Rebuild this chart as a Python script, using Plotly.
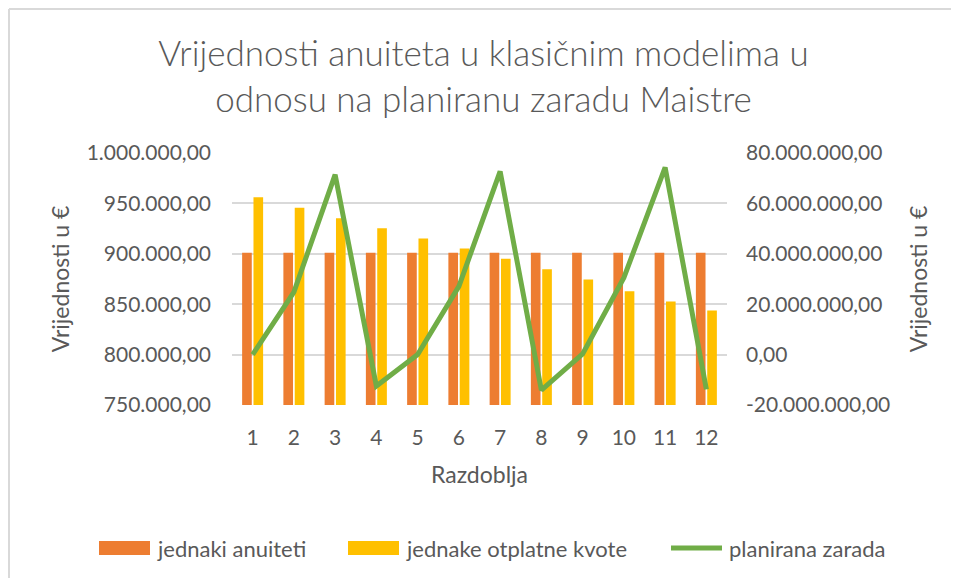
import plotly.graph_objects as go

# Razdoblja i vrijednosti (očitano s grafa)
razdoblja = [1, 2, 3, 4, 5, 6, 7, 8, 9, 10, 11, 12]
jednaki_anuiteti = [901000] * 12
jednake_otplatne_kvote = [956000, 945800, 935200, 925300, 915100, 905200,
                          895000, 884700, 874500, 862900, 852700, 843800]
planirana_zarada = [0, 24800000, 71400000, -12500000, 0, 27100000,
                    72700000, -14100000, 300000, 30500000, 74300000, -13800000]

# oznake osi
lijeve_vrijednosti = [750000, 800000, 850000, 900000, 950000, 1000000]
lijeve_oznake = ["750.000,00", "800.000,00", "850.000,00", "900.000,00",
                 "950.000,00", "1.000.000,00"]
desne_vrijednosti = [-20000000, 0, 20000000, 40000000, 60000000, 80000000]
desne_oznake = ["-20.000.000,00", "0,00", "20.000.000,00", "40.000.000,00",
                "60.000.000,00", "80.000.000,00"]

serije = ["jednaki anuiteti", "jednake otplatne kvote", "planirana zarada"]
boje = ["#ED7D31", "#FFC000", "#70AD47"]

siva = "#595959"
font = "Lato"

# stranica ima marginu od 8px, pa je figura malo manja
W, H = 951, 570
L, R, T, B = 224, 232, 145, 173
PW, PH = W - L - R, H - T - B


def px(p):
    # x piksel na stranici -> paper koordinata
    return (p - 8 - L) / PW


def py(q):
    # y piksel na stranici -> paper koordinata
    return (H - (q - 8) - B) / PH


fig = go.Figure()

fig.add_trace(go.Bar(
    x=razdoblja, y=jednaki_anuiteti, name=serije[0],
    marker=dict(color=boje[0], line=dict(width=0)),
))
fig.add_trace(go.Bar(
    x=razdoblja, y=jednake_otplatne_kvote, name=serije[1],
    marker=dict(color=boje[1], line=dict(width=0)),
))
fig.add_trace(go.Scatter(
    x=razdoblja, y=planirana_zarada, name=serije[2],
    mode="lines", line=dict(color=boje[2], width=5),
    yaxis="y2",
))

# ručna legenda (veći simboli kao u Excelu)
legenda_x = [99, 348, 669]
shapes = [
    # rub grafikona (lijevo i gore)
    dict(type="line", xref="paper", yref="paper",
         x0=px(9), x1=px(959), y0=py(9), y1=py(9),
         line=dict(color="#D9D9D9", width=2)),
    dict(type="line", xref="paper", yref="paper",
         x0=px(9), x1=px(9), y0=py(9), y1=py(578),
         line=dict(color="#D9D9D9", width=2)),
]
annotations = []
for i, (ime, boja, lx) in enumerate(zip(serije, boje, legenda_x)):
    if i < 2:
        shapes.append(dict(type="rect", xref="paper", yref="paper",
                           x0=px(lx), x1=px(lx + 51), y0=py(541), y1=py(555),
                           fillcolor=boja, line=dict(width=0)))
        tx = lx + 56
    else:
        shapes.append(dict(type="line", xref="paper", yref="paper",
                           x0=px(lx + 2), x1=px(lx + 53), y0=py(548), y1=py(548),
                           line=dict(color=boja, width=5)))
        tx = lx + 58
    annotations.append(dict(text=ime, xref="paper", yref="paper",
                            x=px(tx), y=py(548), xanchor="left", yanchor="middle",
                            showarrow=False, font=dict(size=22, color=siva)))

fig.update_layout(
    width=W,
    height=H,
    paper_bgcolor="white",
    plot_bgcolor="white",
    showlegend=False,
    font=dict(family=font, color=siva, size=21),
    title=dict(
        text="Vrijednosti anuiteta u klasičnim modelima u<br>odnosu na planiranu zaradu Maistre",
        x=0.5, xanchor="center", xref="container",
        y=1 - 58 / H, yanchor="middle", yref="container",
        font=dict(size=35, color=siva, weight=300),
    ),
    barmode="group",
    bargap=0.45,
    bargroupgap=0.15,
    margin=dict(l=L, r=R, t=T, b=B),
    xaxis=dict(
        tickmode="array", tickvals=razdoblja,
        range=[0.5, 12.5],
        showgrid=False, showline=False, zeroline=False,
        ticks="", ticklabelstandoff=18,
        title=dict(text="Razdoblja", standoff=18, font=dict(size=23)),
    ),
    yaxis=dict(
        range=[750000, 1000000],
        tickmode="array", tickvals=lijeve_vrijednosti, ticktext=lijeve_oznake,
        showgrid=True, gridcolor="#D9D9D9", gridwidth=1.5,
        zeroline=False, showline=False, ticks="",
        ticklabelstandoff=20,
        title=dict(text="Vrijednosti u €", standoff=10, font=dict(size=23)),
    ),
    yaxis2=dict(
        range=[-20000000, 80000000],
        overlaying="y", side="right",
        tickmode="array", tickvals=desne_vrijednosti, ticktext=desne_oznake,
        showgrid=False, zeroline=False, showline=False, ticks="",
        ticklabelstandoff=18,
        title=dict(text="Vrijednosti u €", standoff=21, font=dict(size=23)),
    ),
    shapes=shapes,
    annotations=annotations,
)

fig.write_html("out.html")
